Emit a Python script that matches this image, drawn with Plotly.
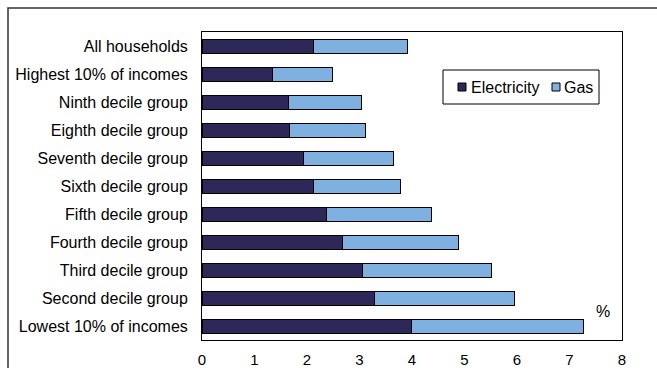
import plotly.graph_objects as go

# Income groups, listed top to bottom
groups = [
    "All households",
    "Highest 10% of incomes",
    "Ninth decile group",
    "Eighth decile group",
    "Seventh decile group",
    "Sixth decile group",
    "Fifth decile group",
    "Fourth decile group",
    "Third decile group",
    "Second decile group",
    "Lowest 10% of incomes",
]

# Share of spending (%)
electricity = [2.13, 1.35, 1.64, 1.66, 1.94, 2.13, 2.37, 2.67, 3.05, 3.29, 3.99]
gas = [1.79, 1.14, 1.39, 1.45, 1.70, 1.66, 2.00, 2.22, 2.46, 2.66, 3.27]

x_ticks = [0, 1, 2, 3, 4, 5, 6, 7, 8]

series = [("Electricity", electricity, "#2E2859"), ("Gas", gas, "#7FB1E0")]
FONT = "Liberation Sans, Arial, sans-serif"
FS = 16

fig = go.Figure()
for name, vals, color in series:
    fig.add_trace(go.Bar(
        y=groups, x=vals, orientation="h", name=name,
        marker=dict(color=color, line=dict(color="#000000", width=1)),
    ))

W, H = 657, 368
L, R, T, B = 202, 35, 32, 28
pw, ph = W - L - R, H - T - B

def px(xp):
    return (xp - L) / pw

def py(yp):
    return (H - B - yp) / ph

# Boxed legend drawn with shapes and text
shapes = [
    dict(type="path", xref="paper", yref="paper",
         path=f"M {px(8)} {py(H + 20)} L {px(8)} {py(8)} L {px(W + 20)} {py(8)}",
         line=dict(color="#333333", width=1.5)),
    dict(type="rect", xref="paper", yref="paper",
         x0=px(443), x1=px(599), y0=py(104), y1=py(70),
         line=dict(color="#000000", width=1), fillcolor="white"),
]
annotations = []
legend_slots = [(458, 469), (552, 562)]
for (mx, tx), (name, _, color) in zip(legend_slots, series):
    shapes.append(dict(type="rect", xref="paper", yref="paper",
                       x0=px(mx), x1=px(mx + 8), y0=py(91), y1=py(83),
                       line=dict(color="#000000", width=1), fillcolor=color))
    annotations.append(dict(text=name, xref="paper", yref="paper",
                            x=px(tx), y=py(87), showarrow=False,
                            xanchor="left", yanchor="middle",
                            font=dict(family=FONT, size=FS, color="#000000")))

annotations.append(dict(
    text="%", xref="paper", yref="paper", x=px(603), y=py(311),
    showarrow=False, xanchor="center", yanchor="middle",
    font=dict(family=FONT, size=FS, color="#000000"),
))

fig.update_layout(
    width=W, height=H,
    barmode="stack", bargap=0.5,
    margin=dict(l=L, r=R, t=T, b=B, pad=0, autoexpand=False),
    paper_bgcolor="white", plot_bgcolor="white",
    font=dict(family=FONT, size=FS, color="#000000"),
    showlegend=False,
    xaxis=dict(
        range=[0, 8], tickvals=x_ticks, ticktext=[str(v) for v in x_ticks],
        showgrid=False, zeroline=False, showline=True, linecolor="#000000",
        linewidth=1, mirror=True, ticks="", ticklabelstandoff=6,
        tickfont=dict(family=FONT, size=15), automargin=False,
        fixedrange=True,
    ),
    yaxis=dict(
        autorange="reversed", showgrid=False, showline=True,
        linecolor="#000000", linewidth=1, mirror=True, ticks="",
        ticklabelstandoff=10, tickfont=dict(family=FONT, size=FS),
        automargin=False, fixedrange=True,
    ),
    shapes=shapes,
    annotations=annotations,
)

fig.write_html("out.html")
